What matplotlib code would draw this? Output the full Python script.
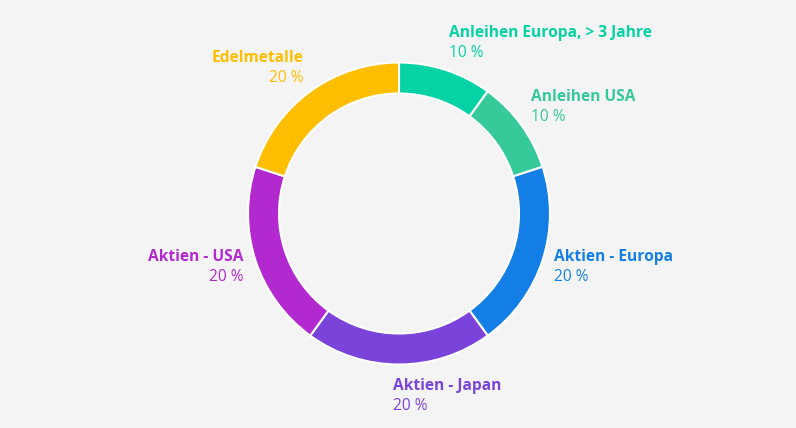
import numpy as np
import matplotlib
matplotlib.use("Agg")
import matplotlib.pyplot as plt

labels = ["Anleihen Europa, > 3 Jahre", "Anleihen USA", "Aktien - Europa",
          "Aktien - Japan", "Aktien - USA", "Edelmetalle"]
shares = [10, 10, 20, 20, 20, 20]
colors = ["#05D3A5", "#36C99A", "#137FE6", "#7A43D9", "#B129CF", "#FFBE00"]

W, H = 796, 428
bg = "#F4F4F4"

plt.rcParams["font.family"] = ["Open Sans", "DejaVu Sans"]

fig = plt.figure(figsize=(W / 100, H / 100), dpi=100, facecolor=bg)
ax = fig.add_axes([0, 0, 1, 1])
ax.set_facecolor(bg)

cx, cy = 399, H - 213.5
R = 151
ax.pie(shares, colors=colors, startangle=90, counterclock=False,
       radius=R, center=(cx, cy), frame=True,
       wedgeprops=dict(width=31, edgecolor="white", linewidth=1.5))
ax.set_xlim(0, W)
ax.set_ylim(0, H)
ax.set_aspect("equal")
ax.axis("off")

# labels around the ring
total = sum(shares)
start = 0
for lab, val, col in zip(labels, shares, colors):
    mid = np.radians((start + val / 2) / total * 360)
    start += val
    s, c = np.sin(mid), np.cos(mid)
    r = R + 12
    px, py = cx + r * s, cy + r * c
    ha = "left" if s >= -1e-9 else "right"
    if abs(s) < 1e-9:
        px -= 6
    block = 34
    top = py + block / 2 + block / 2 * c + 4 * (1 - abs(c)) - 2 * (c < -0.9)
    ax.text(px, top - 12, lab, color=col, fontsize=11.2, fontweight="bold",
            ha=ha, va="baseline")
    ax.text(px, top - 32, f"{val} %", color=col, fontsize=11.2,
            ha=ha, va="baseline")

fig.savefig("out.png", dpi=100, facecolor=bg)
